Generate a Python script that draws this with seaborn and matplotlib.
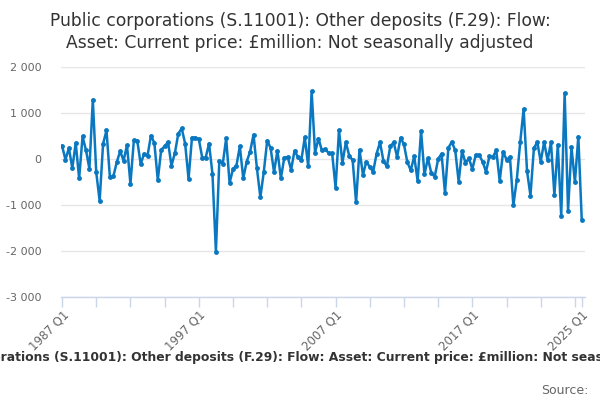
import numpy as np
import pandas as pd
import matplotlib
matplotlib.use("Agg")
import matplotlib.pyplot as plt
from matplotlib.ticker import FuncFormatter, FixedLocator
import seaborn as sns

# --- Datos (trimestrales, 1987 Q1 - 2025 Q1, £million) ---
anio_inicio = 1987
valores = [
    290, -15, 240, -200, 350, -420, 490, 190, -210, 1290,
    -290, -910, 330, 620, -400, -380, -70, 170, -35, 300,
    -540, 405, 400, -110, 115, 70, 510, 350, -460, 200,
    275, 370, -145, 130, 550, 665, 335, -435, 465, 465,
    435, 30, 30, 335, -330, -2015, -36, -109, 449, -522,
    -217, -145, 275, -420, -58, 159, 529, -203, -833, -283,
    399, 239, -283, 181, -420, 29, 43, -232, 181, 43,
    -20, 470, -159, 1471, 140, 445, 185, 217, 123, 126,
    -625, 623, -87, 362, 72, -29, -942, 203, -341, -58,
    -174, -275, 116, 362, -43, -159, 275, 362, 43, 464,
    319, -72, -246, 58, -478, 609, -333, 14, -304, -385,
    0, 116, -739, 246, 370, 188, -493, 174, -87, 14,
    -217, 87, 87, -58, -275, 58, 43, 188, -478, 159,
    -14, 43, -1007, -449, 362, 1087, -261, -797, 232, 370,
    -58, 370, -29, 362, -783, 304, -1246, 1435, -1123, 261,
    -507, 486, -1319,
]
etiquetas_x = ["1987 Q1", "1997 Q1", "2007 Q1", "2017 Q1", "2025 Q1"]
posiciones_x = [0, 40, 80, 120, 152]

titulo = ("Public corporations (S.11001): Other deposits (F.29): Flow:\n"
          "Asset: Current price: £million: Not seasonally adjusted")
etiqueta_eje = ("Public corporations (S.11001): Other deposits (F.29): Flow: "
                "Asset: Current price: £million: Not seasonally adjusted")

df = pd.DataFrame({"idx": np.arange(len(valores)), "valor": valores})

# --- Gráfico ---
sns.set_theme(style="white")
plt.rcParams['font.family'] = ['DejaVu Sans']

fig = plt.figure(figsize=(6, 4), dpi=100)
ax = fig.add_axes([0.1017, 0.2575, 0.873, 0.575])

sns.lineplot(data=df, x="idx", y="valor", ax=ax, color="#0a78c0",
             linewidth=1.8, marker="o", markersize=3.5,
             markeredgewidth=0, zorder=3)

ax.set_ylim(-3000, 2000)
ax.set_yticks([-3000, -2000, -1000, 0, 1000, 2000])
ax.yaxis.set_major_formatter(FuncFormatter(lambda v, p: f"{int(v):,}".replace(",", " ")))
ax.grid(axis="y", color="#e6e6e6", linewidth=1)
ax.set_xlim(-0.3, 152.9)

ax.xaxis.set_major_locator(FixedLocator(posiciones_x))
ax.set_xticklabels(etiquetas_x, rotation=45, ha="right", va="top",
                   rotation_mode="anchor", fontsize=8.5, color="#666666")
ax.xaxis.set_minor_locator(FixedLocator(list(range(0, 153, 10))))
ax.tick_params(axis="x", which="both", length=7, color="#ccd6eb", width=1,
               direction="out", bottom=True, pad=1)
ax.tick_params(axis="y", length=0, labelsize=8, labelcolor="#666666", pad=14)

for lado in ["top", "right", "left"]:
    ax.spines[lado].set_visible(False)
ax.spines["bottom"].set_color("#ccd6eb")
ax.spines["bottom"].set_linewidth(1)

ax.set_xlabel(etiqueta_eje, fontsize=8.9, fontweight="bold", color="#333333")
ax.xaxis.set_label_coords(0.48, -0.235)
ax.set_ylabel("")

fig.suptitle(titulo, x=0.5, y=0.97, fontsize=12.3, color="#333333", linespacing=1.3)
fig.text(0.98, 0.025, "Source:", ha="right", va="center", fontsize=9, color="#666666")

fig.savefig("out.png", dpi=100)
